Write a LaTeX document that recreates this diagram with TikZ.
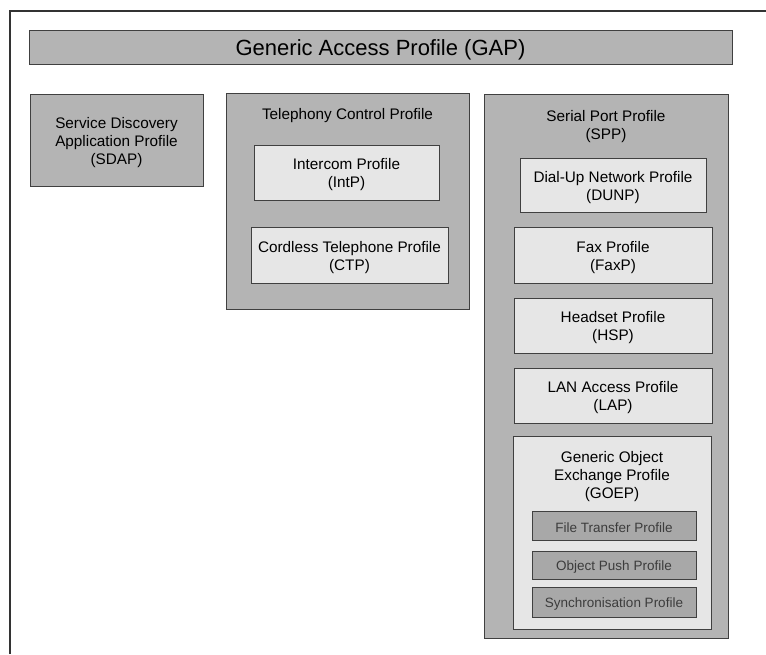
\documentclass[tikz,border=0pt]{standalone}
\usepackage{fontspec}
\setmainfont{Liberation Sans}
\definecolor{outerfill}{HTML}{B4B4B4}
\definecolor{innerfill}{HTML}{E6E6E6}
\definecolor{objfill}{HTML}{A8A8A8}
\definecolor{edge}{HTML}{404040}
\definecolor{objtext}{HTML}{3C3C3C}
\tikzset{
  boxbase/.style={draw=edge, line width=1pt, inner sep=0pt},
  outerbox/.style={boxbase, fill=outerfill},
  innerbox/.style={boxbase, fill=innerfill},
  objbox/.style={boxbase, fill=objfill},
  maintext/.style={inner sep=0pt, align=center, yshift=-2.5pt, font=\fontsize{15.3}{18}\selectfont},
  objtextstyle/.style={inner sep=0pt, align=center, yshift=-2pt, text=objtext, font=\fontsize{13.5}{16}\selectfont},
  bigtext/.style={inner sep=0pt, align=center, yshift=-2.5pt, font=\fontsize{22}{26}\selectfont},
  txt/.style={label={[maintext]center:{#1}}},
  otxt/.style={label={[objtextstyle]center:{#1}}},
  titletext/.style={maintext},
  framestyle/.style={draw=black!80, line width=1.3pt}
}
\begin{document}
\begin{tikzpicture}[x=1pt,y=-1pt]
\useasboundingbox (0,0) rectangle (766,654);
\coordinate (fr1) at (10,654);
\coordinate (fr2) at (10,11);
\coordinate (fr3) at (766,11);
\draw[framestyle] (fr1) -- (fr2) -- (fr3);

\node[outerbox, minimum width=703, minimum height=34, label={[bigtext]center:Generic Access Profile (GAP)}] (gap) at (380.5,47) {};

\node[outerbox, minimum width=173, minimum height=92, txt={Service Discovery\\Application Profile\\(SDAP)}] (sdap) at (116.5,140) {};

\node[outerbox, minimum width=243, minimum height=216] (tcp) at (347.5,201) {};
\node[titletext] (tcpt) at (347.5,113) {Telephony Control Profile};
\node[innerbox, minimum width=185, minimum height=55, txt={Intercom Profile\\(IntP)}] (intp) at (346.5,172.5) {};
\node[innerbox, minimum width=197, minimum height=56, txt={Cordless Telephone Profile\\(CTP)}] (ctp) at (349.5,255) {};

\node[outerbox, minimum width=244, minimum height=544] (spp) at (606,366) {};
\node[titletext] (sppt) at (606,124) {Serial Port Profile\\(SPP)};
\node[innerbox, minimum width=186, minimum height=54, txt={Dial-Up Network Profile\\(DUNP)}] (dunp) at (613,185) {};
\node[innerbox, minimum width=198, minimum height=56, txt={Fax Profile\\(FaxP)}] (faxp) at (613,255) {};
\node[innerbox, minimum width=198, minimum height=55, txt={Headset Profile\\(HSP)}] (hsp) at (613,325.5) {};
\node[innerbox, minimum width=198, minimum height=55, txt={LAN Access Profile\\(LAP)}] (lap) at (613,395.5) {};
\node[innerbox, minimum width=198, minimum height=193] (goep) at (612,532.5) {};
\node[titletext] (goept) at (612,474.5) {Generic Object\\Exchange Profile\\(GOEP)};
\node[objbox, minimum width=164, minimum height=29, otxt={File Transfer Profile}] (ftp) at (614,525.5) {};
\node[objbox, minimum width=164, minimum height=28, otxt={Object Push Profile}] (opp) at (614,565) {};
\node[objbox, minimum width=164, minimum height=30, otxt={Synchronisation Profile}] (sync) at (614,602) {};
\end{tikzpicture}
\end{document}
